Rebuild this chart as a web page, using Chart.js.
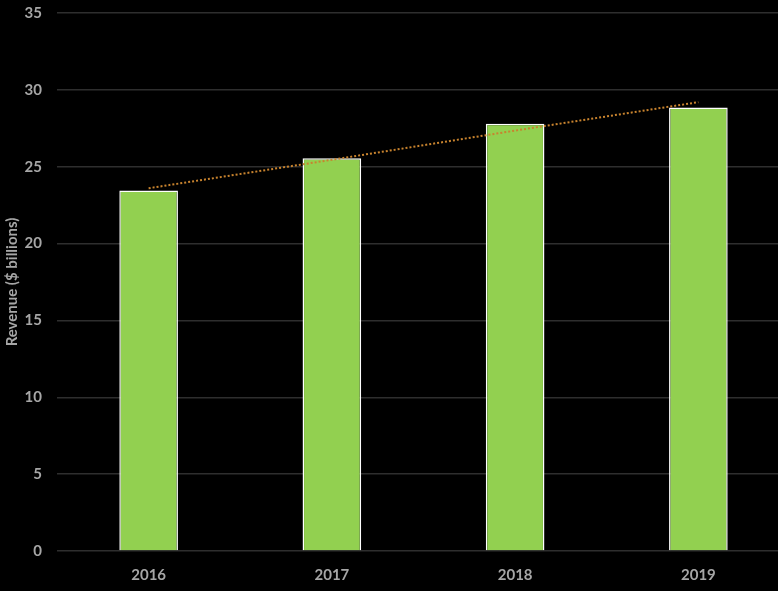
<!DOCTYPE html>
<html>
<head>
<meta charset="utf-8">
<script src="https://cdn.jsdelivr.net/npm/chart.js@4/dist/chart.umd.min.js"></script>
<style>
  html, body { margin: 0; padding: 0; background: #000; overflow: hidden; }
  #wrap { width: 790px; height: 591px; }
</style>
</head>
<body>
<div id="wrap"><canvas id="bar-chart" width="790" height="591"></canvas></div>
<script>
// dane wykresu
var years = ["2016", "2017", "2018", "2019"];
var revenue = [23.45, 25.55, 27.8, 28.85];
// linia trendu
var trend = [23.6, 25.45, 27.35, 29.2];
var yTicks = [0, 5, 10, 15, 20, 25, 30, 35];

var textColor = "#a6a6a6";
var gridColor = "#2e2e2e";

function ready() {
  var el = document.getElementById("bar-chart");
  new Chart(el, {
    data: {
      labels: years,
      datasets: [
        {
          type: "line",
          label: "Trend",
          data: trend,
          borderColor: "#c8832e",
          borderWidth: 2,
          borderDash: [2, 2],
          pointRadius: 0,
          fill: false,
          order: 0
        },
        {
          type: "bar",
          label: "Revenue",
          data: revenue,
          backgroundColor: "#92d050",
          borderColor: "#ffffff",
          borderWidth: 1.5,
          barPercentage: 0.32,
          categoryPercentage: 1,
          order: 1
        }
      ]
    },
    options: {
      responsive: false,
      animation: false,
      devicePixelRatio: 1,
      layout: { padding: { top: 13, left: 0, right: 0, bottom: 0 } },
      plugins: {
        legend: { display: false },
        tooltip: { enabled: false }
      },
      scales: {
        x: {
          grid: { display: false, drawTicks: false },
          border: { display: false },
          ticks: {
            color: textColor,
            padding: 15,
            font: { family: "Lato", size: 15, weight: "bold" }
          },
          afterFit: function(s) {
            s.height = 40;
            s.paddingLeft = 0;
            s.paddingRight = 0;
          }
        },
        y: {
          min: 0,
          max: 35,
          afterBuildTicks: function(s) {
            s.ticks = yTicks.map(function(v) { return { value: v }; });
          },
          grid: { color: gridColor, lineWidth: 1.5, drawTicks: false },
          border: { display: false },
          ticks: {
            color: textColor,
            padding: 15,
            font: { family: "Lato", size: 15, weight: "bold" }
          },
          title: {
            display: true,
            text: "Revenue ($ billions)",
            color: textColor,
            padding: { top: 3, bottom: 0 },
            font: { family: "Lato", size: 15, weight: "bold" }
          },
          afterFit: function(s) {
            s.width = 57;
            s.paddingTop = 0;
            s.paddingBottom = 0;
          }
        }
      }
    }
  });
}

document.addEventListener("DOMContentLoaded", ready);
</script>
</body>
</html>
